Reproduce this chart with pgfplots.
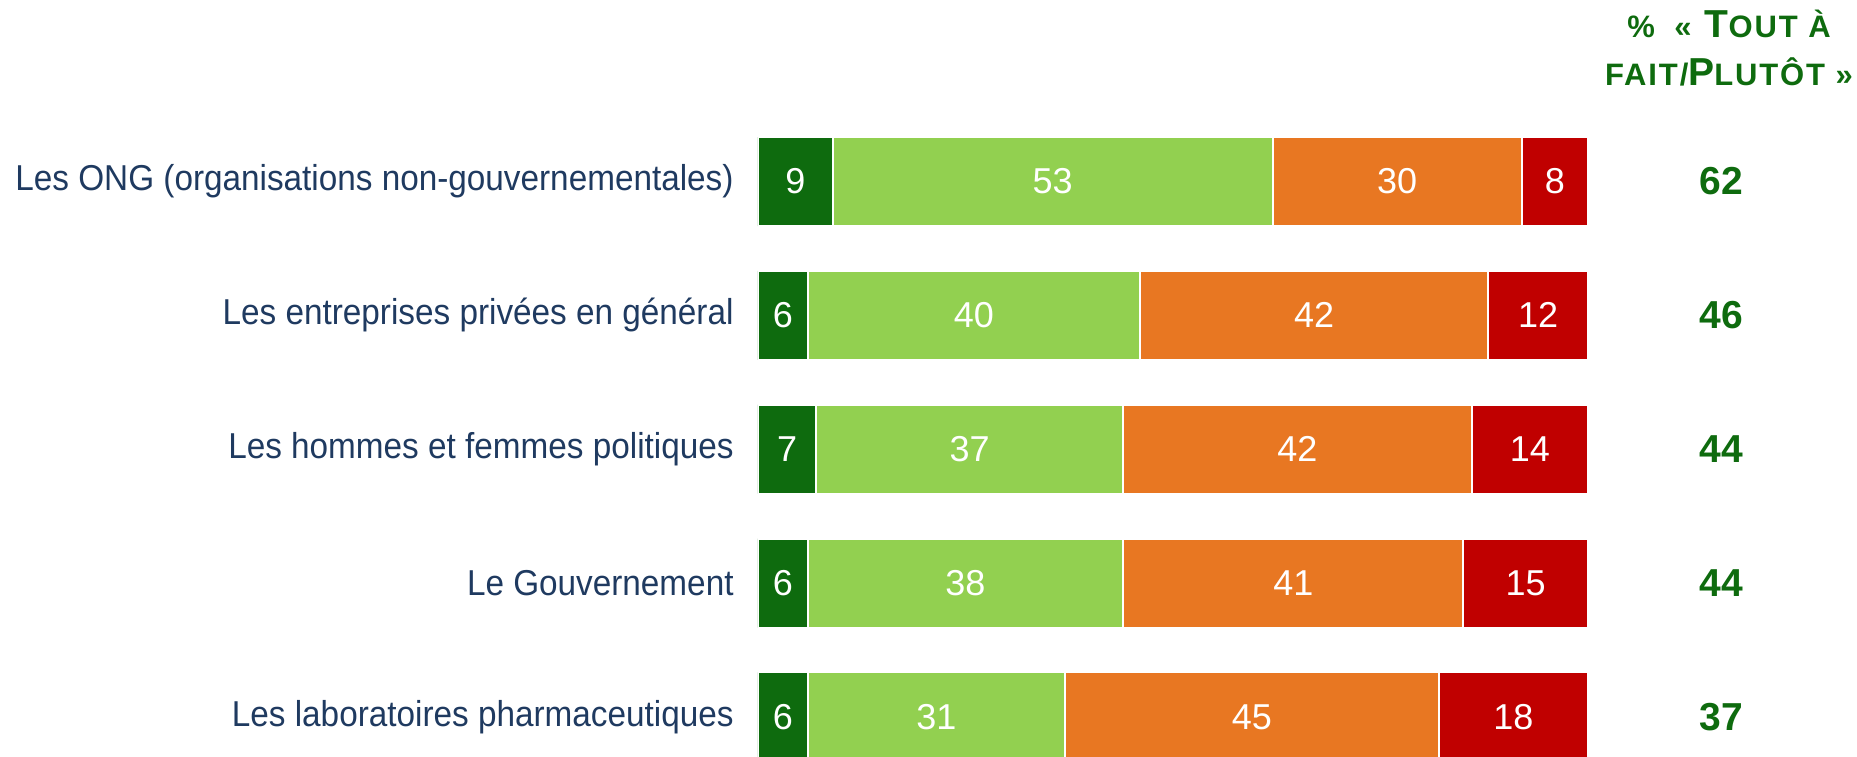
\documentclass[border=0pt]{standalone}
\usepackage{fontspec}
\setmainfont{Liberation Sans}
\newfontfamily\labelfont[FakeStretch=0.925]{Liberation Sans}
\newfontfamily\headfont[LetterSpace=6]{Liberation Sans}
\usepackage{pgfplots}
\pgfplotsset{compat=1.18}
\usepackage{pgfplotstable}
\usetikzlibrary{calc}

\definecolor{dkgreen}{HTML}{0E6B0E}
\definecolor{ltgreen}{HTML}{92D050}
\definecolor{orng}{HTML}{E87722}
\definecolor{rd}{HTML}{C00000}
\definecolor{navy}{HTML}{1F3A60}

% 1 px of the reference = 0.5bp
\pgfplotstableread{
y a b c d
0 9 53 30 8
1 6 40 42 12
2 7 37 42 14
3 6 38 41 15
4 6 31 45 18
}\data

\newcommand\smc[1]{{\fontsize{15.5bp}{24bp}\selectfont #1}}

\begin{document}
\begin{tikzpicture}
\pgfplotsset{
  common/.style={scale only axis, width=415bp, height=321.2bp,
    xmin=0, xmax=100, ymin=-0.5, ymax=4.3, y dir=reverse,
    axis line style={draw=none}, xtick=\empty, ytick={0,...,4},
    major tick length=0pt},
  seg/.style={fill=#1, draw=white, line width=1bp},
}
\begin{axis}[common, name=ax, xbar stacked, bar width=44.5bp,
  yticklabels={Les ONG (organisations non-gouvernementales), Les entreprises privées en général, Les hommes et femmes politiques, Le Gouvernement, Les laboratoires pharmaceutiques},
  yticklabel style={anchor=east, inner sep=0pt, xshift=-12bp,
    font=\labelfont\fontsize{18bp}{21bp}\selectfont, text=navy},
  nodes near coords, point meta=explicit,
  /pgf/number format/assume math mode=true,
  every node near coord/.append style={anchor=center, text=white,
    font=\fontsize{18bp}{21bp}\selectfont}]
\addplot[seg=dkgreen] table[x=a, y=y, meta=a]{\data};
\addplot[seg=ltgreen] table[x=b, y=y, meta=b]{\data};
\addplot[seg=orng] table[x=c, y=y, meta=c]{\data};
\addplot[seg=rd] table[x=d, y=y, meta=d]{\data};
\end{axis}
\begin{axis}[common, at={(ax.south west)}, anchor=south west,
  yticklabel pos=right,
  yticklabels={\textbf{62},\textbf{46},\textbf{44},\textbf{44},\textbf{37}},
  yticklabel style={anchor=center, inner sep=0pt, xshift=66.5bp,
    font=\bfseries\fontsize{19.5bp}{22bp}\selectfont, text=dkgreen}]
\addplot[draw=none] coordinates {(50,2)};
\end{axis}
\node[anchor=north, inner sep=0pt, align=center, text=dkgreen,
  font=\headfont\bfseries\fontsize{19.5bp}{24bp}\selectfont]
  at ($(ax.north west)+(485.5bp,52.5bp)$)
  {\smc{\%}\hspace{0.5em}\smc{«} T\smc{OUT À}\\\smc{FAIT/}P\smc{LUTÔT »}};
\pgfresetboundingbox
\path[use as bounding box] ($(ax.south west)+(-379bp,0)$) rectangle ($(ax.north west)+(549.5bp,57.3bp)$);
\end{tikzpicture}
\end{document}
